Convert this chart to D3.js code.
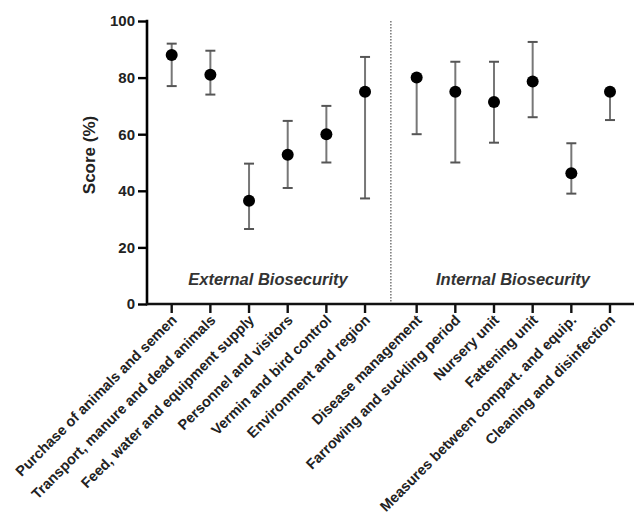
<!DOCTYPE html>
<html>
<head>
<meta charset="utf-8">
<script src="https://cdn.jsdelivr.net/npm/d3@7"></script>
<style>
  body { margin: 0; background: #fff; }
  svg text { font-family: Arial, "Liberation Sans", sans-serif; }
</style>
</head>
<body>
<div id="chart"></div>
<script>
var categories = ['Purchase of animals and semen', 'Transport, manure and dead animals',
  'Feed, water and equipment supply', 'Personnel and visitors', 'Vermin and bird control',
  'Environment and region', 'Disease management', 'Farrowing and suckling period',
  'Nursery unit', 'Fattening unit', 'Measures between compart. and equip.',
  'Cleaning and disinfection'];
var median = [88, 81, 36.5, 52.7, 60, 75, 80, 75, 71.4, 78.6, 46.2, 75];
var upper = [92, 89.5, 49.6, 64.7, 70, 87.3, 80, 85.6, 85.6, 92.6, 56.8, 75];
var lower = [77, 74, 26.5, 41, 50, 37.3, 60, 50, 57, 66, 39, 65];
var yTicks = [0, 20, 40, 60, 80, 100];
var groups = ['External Biosecurity', 'Internal Biosecurity'];

var width = 634, height = 518;
var margin = { top: 21, left: 147 };
var y0 = 304;

var svg = d3.select('#chart').append('svg')
  .attr('width', width)
  .attr('height', height);

var y = d3.scaleLinear().domain([0, 100]).range([y0, margin.top]);

// 6 external + gap + 6 internal
var gap = 0.335;
var pos = function (i) { return i < 6 ? i : i + gap; };
var x = d3.scaleLinear().domain([0, 11 + gap]).range([171.7, 610]);

// y axis
var yAxis = d3.axisLeft(y).tickValues(yTicks).tickSize(9).tickSizeOuter(0);
var gy = svg.append('g')
  .attr('transform', 'translate(' + margin.left + ',0)')
  .call(yAxis);
gy.select('.domain').attr('stroke-width', 2.6).attr('d', 'M0,' + (y0 + 1.3) + 'V' + (margin.top - 1.3));
gy.selectAll('.tick line').attr('stroke-width', 2.4);
gy.selectAll('.tick text')
  .attr('x', -12)
  .style('font-size', '15px')
  .style('font-weight', 'bold')
  .attr('fill', '#222');

svg.append('text')
  .attr('transform', 'translate(95,155) rotate(-90)')
  .attr('text-anchor', 'middle')
  .style('font-size', '17px')
  .style('font-weight', 'bold')
  .attr('fill', '#222')
  .text('Score (%)');

// divider
var xDiv = (x(5) + x(6 + gap)) / 2;
svg.append('line')
  .attr('x1', xDiv).attr('x2', xDiv)
  .attr('y1', y(100)).attr('y2', y0)
  .attr('stroke', '#777')
  .attr('stroke-width', 1.5)
  .attr('stroke-dasharray', '1.5,1.5');

// x axis
var gx = svg.append('g').attr('transform', 'translate(0,' + y0 + ')');
gx.append('line')
  .attr('x1', margin.left - 1).attr('x2', width)
  .attr('stroke', '#111').attr('stroke-width', 2.6);
var xt = gx.selectAll('.xtick').data(categories).enter().append('g')
  .attr('transform', function (d, i) { return 'translate(' + x(pos(i)) + ',0)'; });
xt.append('line').attr('y2', 9).attr('stroke', '#111').attr('stroke-width', 2.4);
xt.append('text')
  .attr('transform', 'translate(6,17) rotate(-45)')
  .attr('text-anchor', 'end')
  .style('font-size', '14.5px')
  .style('font-weight', 'bold')
  .attr('fill', '#222')
  .text(function (d) { return d; });

// group labels
svg.selectAll('.grp').data(groups).enter().append('text')
  .attr('x', function (d, i) { return i === 0 ? 268 : 513; })
  .attr('y', 285)
  .attr('text-anchor', 'middle')
  .style('font-size', '16.5px')
  .style('font-weight', 'bold')
  .style('font-style', 'italic')
  .attr('fill', '#333')
  .text(function (d) { return d; });

// error bars
var eb = svg.selectAll('.eb').data(categories).enter().append('g')
  .attr('transform', function (d, i) { return 'translate(' + x(pos(i)) + ',0)'; });
eb.append('line')
  .attr('y1', function (d, i) { return y(upper[i]); })
  .attr('y2', function (d, i) { return y(lower[i]); })
  .attr('stroke', '#777').attr('stroke-width', 2);
eb.filter(function (d, i) { return upper[i] > median[i]; }).append('line')
  .attr('x1', -5).attr('x2', 5)
  .attr('y1', function (d) { var i = categories.indexOf(d); return y(upper[i]); })
  .attr('y2', function (d) { var i = categories.indexOf(d); return y(upper[i]); })
  .attr('stroke', '#555').attr('stroke-width', 2);
eb.filter(function (d, i) { return lower[i] < median[i]; }).append('line')
  .attr('x1', -5).attr('x2', 5)
  .attr('y1', function (d) { var i = categories.indexOf(d); return y(lower[i]); })
  .attr('y2', function (d) { var i = categories.indexOf(d); return y(lower[i]); })
  .attr('stroke', '#555').attr('stroke-width', 2);
eb.append('circle')
  .attr('cy', function (d, i) { return y(median[i]); })
  .attr('r', 6)
  .attr('fill', '#000');
</script>
</body>
</html>
